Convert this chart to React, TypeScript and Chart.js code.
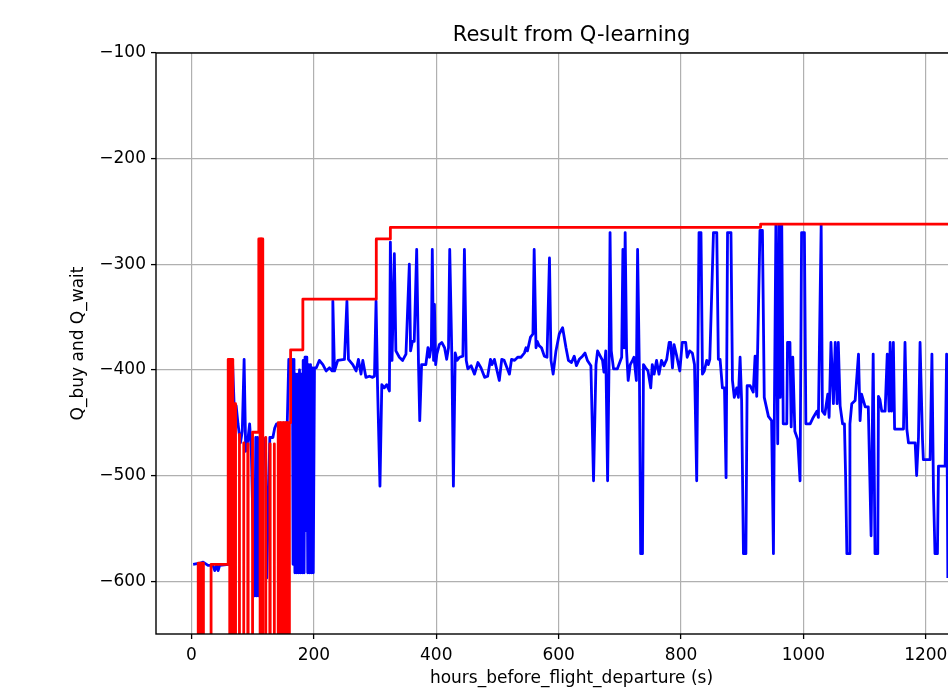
import React, { useEffect, useRef } from "react";
import { Chart, registerables } from "chart.js";

Chart.register(...registerables);

// Q_buy (blue) series
const blueX = [
  2.7, 13.6, 19, 27, 35, 38, 41, 43.5, 46, 61, 63.6, 67, 69.6, 73, 76, 80, 83, 86, 88.6, 92,
  95, 97.8, 103, 105, 106.5, 108, 110, 112, 114, 117, 121, 123, 128, 133, 136, 139, 147, 156.5, 159, 162,
  165, 166, 167.5, 169, 170.5, 172, 173.5, 175, 176.5, 178, 179.5, 181, 182.5, 184, 185.5, 187, 188.5, 190, 191.5, 193,
  194.5, 196, 197.5, 199, 201, 204, 209, 214.7, 220, 225.5, 230, 231, 233.7, 239,
  250, 254, 256.5, 263.6, 269, 272.8, 277, 280, 285, 290.8, 296, 299, 301.6, 304, 308, 311, 315, 319, 323.4, 325,
  327.7, 331.5, 334, 339.7, 345, 350.5, 356, 358, 361, 364, 368, 371, 373, 376, 383, 386.4, 389, 392, 393.5, 395.6,
  397, 399, 401, 405, 409, 413.6, 417, 420, 422, 425.5, 428, 431, 434, 438, 443.5, 446, 449, 451.6, 457, 462.5,
  468, 473, 479, 484, 488.6, 491, 495, 503, 507, 511, 519.6, 523, 528, 533, 538.6, 544, 546.7, 549, 554, 558,
  560, 563, 565, 568, 572, 576.6, 581, 585, 587.5, 591, 595.6, 601, 606.5, 612, 616, 621, 625.5, 629, 633.7, 639,
  643, 647, 652.7, 657, 661, 663.6, 668, 671.7, 674, 677, 680, 682.6, 684, 686, 689.7, 696, 703, 705, 707, 708.7,
  711, 713.6, 717, 720.7, 723, 727, 729, 732, 734, 737, 738.6, 742, 746, 750.5, 753, 756, 760, 764, 768, 772,
  776.6, 780.6, 783, 786, 788.6, 793, 798, 802, 807.6, 810, 814, 818.5, 822, 825.6, 829.4, 832.6, 835, 838, 842, 844.6,
  847, 853, 858.4, 861, 863.8, 867.6, 871, 873.6, 876, 881.6, 884, 887, 891, 893.7, 896.5, 899, 902, 906, 908, 913,
  918, 921, 923.7, 929, 933, 936, 942.8, 948, 951, 952.6, 955, 958, 960, 962, 964.6, 967, 972.8, 974, 978, 980,
  982.6, 986, 990.7, 994.5, 997, 1001.6, 1004, 1011, 1016, 1022, 1024.5, 1029, 1031, 1035, 1039.8, 1042, 1045, 1049, 1052, 1055,
  1057, 1060, 1064, 1067, 1069, 1071, 1074.7, 1076, 1079, 1084.5, 1090, 1092.6, 1095, 1101, 1106, 1110.6, 1114, 1117, 1121.5, 1122.6,
  1125, 1128, 1133.5, 1137, 1140, 1141.7, 1144, 1147, 1149, 1155, 1163.5, 1166, 1169, 1171.7, 1182.6, 1185, 1188, 1190.6, 1194.6, 1196,
  1207, 1210, 1212.5, 1215, 1219, 1220.7, 1231.6, 1234, 1236,
];
const blueY = [
  -584, -583, -582, -585, -585, -590, -585, -590, -585, -584, -390, -391, -432, -434, -451, -469, -458, -390, -477, -467,
  -451, -477, -614, -464, -614, -464, -614, -470, -614, -464, -467, -597, -464, -464, -455, -451, -451, -450, -390, -391,
  -390, -584, -390, -592, -404, -592, -404, -592, -400, -592, -404, -592, -391, -592, -388, -552, -388, -592, -395, -592,
  -395, -592, -398, -592, -398, -398, -391, -395, -401, -398, -401, -335, -401, -391,
  -390, -335, -390, -395, -401, -390, -404, -391, -407, -406, -407, -406, -335, -414, -510, -414, -417, -414, -420, -279,
  -391, -290, -382, -388, -391, -385, -300, -382, -373, -373, -286, -395, -448, -395, -395, -379, -388, -377, -286, -391,
  -338, -395, -385, -376, -374, -379, -390, -379, -286, -388, -510, -384, -391, -388, -387, -286, -391, -399, -396, -404,
  -393, -398, -407, -406, -390, -395, -390, -410, -390, -391, -404, -390, -391, -388, -388, -384, -379, -382, -369, -366,
  -286, -379, -373, -377, -379, -387, -388, -294, -391, -404, -382, -366, -360, -379, -391, -393, -387, -396, -390, -387,
  -384, -391, -396, -505, -395, -382, -387, -391, -402, -382, -505, -382, -270, -382, -399, -399, -388, -286, -379, -270,
  -382, -410, -395, -391, -388, -410, -286, -404, -574, -574, -395, -398, -401, -417, -395, -404, -391, -404, -391, -396,
  -390, -374, -374, -398, -376, -387, -401, -374, -374, -388, -382, -384, -395, -505, -270, -270, -404, -401, -391, -395,
  -390, -270, -270, -390, -390, -417, -417, -502, -270, -270, -410, -426, -417, -426, -388, -429, -574, -574, -415, -415,
  -421, -387, -425, -268, -268, -426, -444, -448, -574, -434, -263, -470, -263, -426, -263, -451, -451, -374, -374, -454,
  -388, -458, -466, -505, -270, -270, -451, -451, -445, -439, -445, -263, -439, -442, -423, -445, -374, -432, -374, -432,
  -374, -434, -451, -451, -502, -574, -574, -451, -432, -429, -385, -448, -423, -435, -435, -557, -385, -574, -574, -425,
  -428, -439, -439, -385, -439, -374, -439, -374, -456, -456, -456, -374, -456, -469, -469, -500, -464, -374, -466, -485,
  -485, -385, -514, -574, -574, -491, -491, -385, -597,
];

// Q_wait (red) series; values far below the axis are clipped by the plot
const redX = [
  11, 11, 15, 15, 18, 18, 19.5, 19.5, 32, 32, 60, 60, 62.5, 62.5, 63, 63, 65, 65, 65.5, 65.5, 67.5, 67.5,
  71, 71, 72, 72, 78, 78, 78.6, 78.6, 85, 85, 85.6, 85.6, 92, 92, 92.6, 92.6,
  99.8, 99.8, 110, 110, 112, 112, 112.5, 112.5, 114.5, 114.5, 115, 115, 116.5, 116.5,
  121, 121, 121.6, 121.6, 128, 128, 128.6, 128.6, 135, 135, 135.6, 135.6,
  141.7, 141.7, 145, 145, 146, 146, 150, 150, 151, 151,
  155, 155, 156, 156, 159, 159, 160, 160, 162, 162,
  182, 182, 302, 302, 325, 325, 930, 930, 1245,
];
const redY = [
  -1000, -583, -583, -1000, -1000, -583, -583, -1000, -1000, -584, -584, -390, -390, -1000, -1000, -390, -390, -1000, -1000, -390, -390, -1000,
  -1000, -432, -432, -1000, -1000, -461, -461, -1000, -1000, -469, -469, -1000, -1000, -470, -470, -1000,
  -1000, -459, -459, -276, -276, -1000, -1000, -276, -276, -1000, -1000, -276, -276, -1000,
  -1000, -464, -464, -1000, -1000, -470, -470, -1000, -1000, -470, -470, -1000,
  -1000, -450, -450, -1000, -1000, -450, -450, -1000, -1000, -450,
  -450, -1000, -1000, -450, -450, -1000, -1000, -450, -450, -381,
  -381, -333, -333, -276, -276, -265, -265, -262, -262,
];

const xTicks = [0, 200, 400, 600, 800, 1000, 1200];
const yTicks = [-100, -200, -300, -400, -500, -600];
const X_MIN = -58;
const X_MAX = 1300;
const Y_MIN = -650;
const Y_MAX = -100;

const FONT = "'DejaVu Sans', sans-serif";
const fmt = (v: any) => {
  const n = Number(v);
  return n < 0 ? "\u2212" + Math.abs(n) : String(n);
};

export default function App() {
  const ref = useRef<HTMLCanvasElement>(null);

  useEffect(() => {
    const canvas = ref.current;
    if (!canvas) return;

    const framePlugin = {
      id: "frame",
      afterDraw(chart: any) {
        const { ctx, chartArea: a } = chart;
        ctx.save();
        ctx.strokeStyle = "#000";
        ctx.lineWidth = 1.4;
        ctx.strokeRect(a.left, a.top, a.right - a.left, a.bottom - a.top);
        ctx.restore();
      },
    };

    const lineCommon = {
      borderWidth: 2.8,
      pointRadius: 0,
      pointHoverRadius: 0,
      tension: 0,
      fill: false,
      clip: 0,
      borderJoinStyle: "round" as const,
      borderCapStyle: "butt" as const,
    };

    const chart = new Chart(canvas, {
      type: "line",
      data: {
        datasets: [
          {
            label: "Q_wait",
            data: redX.map((x, i) => ({ x, y: redY[i] })),
            borderColor: "#ff0000",
            backgroundColor: "#ff0000",
            order: 0,
            ...lineCommon,
          },
          {
            label: "Q_buy",
            data: blueX.map((x, i) => ({ x, y: blueY[i] })),
            borderColor: "#0000ff",
            backgroundColor: "#0000ff",
            order: 1,
            ...lineCommon,
          },
        ],
      },
      options: {
        responsive: false,
        animation: false,
        devicePixelRatio: 1,
        layout: { padding: { left: 60, right: 121, top: 0, bottom: 0 } },
        plugins: {
          legend: { display: false },
          tooltip: { enabled: false },
          title: {
            display: true,
            text: "Result from Q-learning",
            fullSize: false,
            color: "#000",
            font: { family: FONT, size: 21, weight: "normal", lineHeight: 1.2 },
            padding: { top: 15.4, bottom: 4.4 },
          },
        },
        scales: {
          x: {
            type: "linear",
            min: X_MIN,
            max: X_MAX,
            afterBuildTicks: (s: any) => {
              s.ticks = xTicks.map((v) => ({ value: v }));
            },
            afterFit: (s: any) => {
              s.height = 55;
            },
            ticks: {
              color: "#000",
              font: { family: FONT, size: 17 },
              padding: 6,
              maxRotation: 0,
              autoSkip: false,
              callback: fmt,
            },
            grid: {
              color: "#b0b0b0",
              lineWidth: 1.2,
              tickColor: "#000",
              tickLength: 5,
              tickWidth: 1.3,
            },
            border: { display: false },
            title: {
              display: true,
              text: "hours_before_flight_departure (s)",
              color: "#000",
              font: { family: FONT, size: 17 },
              padding: { top: 0, bottom: 0 },
            },
          },
          y: {
            type: "linear",
            min: Y_MIN,
            max: Y_MAX,
            afterBuildTicks: (s: any) => {
              s.ticks = yTicks.map((v) => ({ value: v }));
            },
            afterFit: (s: any) => {
              s.width = 88;
            },
            ticks: {
              color: "#000",
              font: { family: FONT, size: 17 },
              padding: 5,
              autoSkip: false,
              callback: fmt,
            },
            grid: {
              color: "#b0b0b0",
              lineWidth: 1.2,
              tickColor: "#000",
              tickLength: 5,
              tickWidth: 1.3,
            },
            border: { display: false },
            title: {
              display: true,
              text: "Q_buy and Q_wait",
              color: "#000",
              font: { family: FONT, size: 17 },
              padding: { top: 0, bottom: 0 },
            },
          },
        },
      },
      plugins: [framePlugin],
    } as any);

    return () => chart.destroy();
  }, []);

  return (
    <div
      style={{
        position: "fixed",
        left: 8,
        top: 8,
        width: 940,
        height: 681,
        overflow: "hidden",
        background: "#fff",
      }}
    >
      <canvas
        ref={ref}
        width={1100}
        height={681}
        style={{ display: "block", width: 1100, height: 681 }}
      />
    </div>
  );
}
